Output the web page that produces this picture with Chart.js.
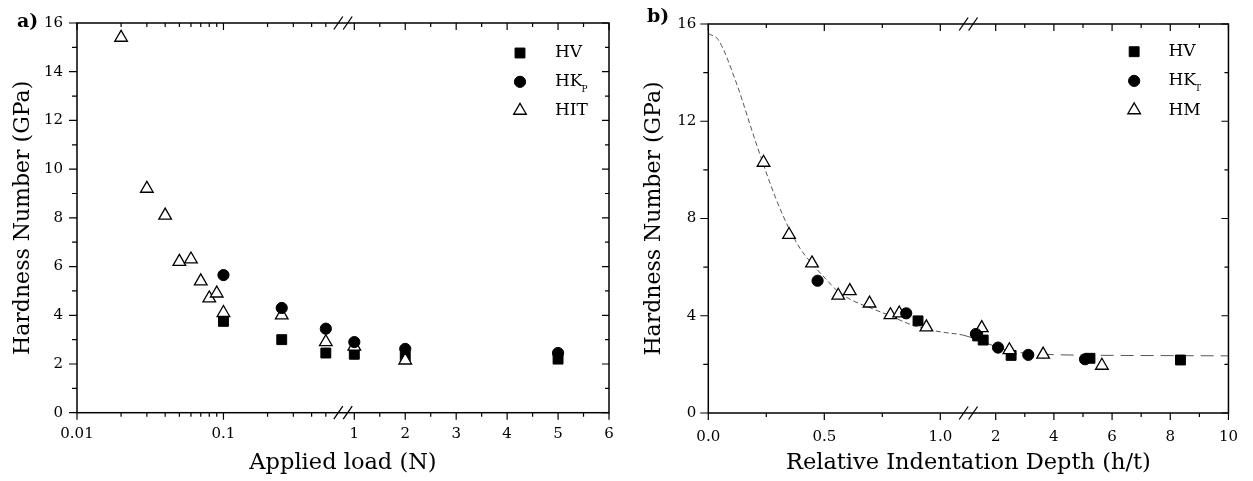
<!DOCTYPE html>
<html>
<head>
<meta charset="utf-8">
<script src="https://cdn.jsdelivr.net/npm/chart.js@4.4.1/dist/chart.umd.min.js"></script>
<style>
  html, body { margin: 0; padding: 0; background: #fff; }
  #wrap { position: relative; width: 1253px; height: 481px; background: #fff; }
  canvas { position: absolute; top: 0; }
  #chartA { left: 0; }
  #chartB { left: 626px; }
</style>
</head>
<body>
<div id="wrap">
  <canvas id="chartA" width="626" height="481"></canvas>
  <canvas id="chartB" width="627" height="481"></canvas>
</div>
<script>
// ---- panel a) hardness vs applied load ----
const aHvLoad = [0.1, 0.25, 0.5, 1, 2, 5];
const aHvValue = [3.75, 3.0, 2.45, 2.4, 2.3, 2.2];
const aHkLoad = [0.1, 0.25, 0.5, 1, 2, 5];
const aHkValue = [5.65, 4.3, 3.45, 2.9, 2.62, 2.45];
const aHitLoad = [0.02, 0.03, 0.04, 0.05, 0.06, 0.07, 0.08, 0.09, 0.1, 0.25, 0.5, 1, 2];
const aHitValue = [15.4, 9.2, 8.1, 6.2, 6.3, 5.4, 4.7, 4.9, 4.1, 4.0, 2.9, 2.72, 2.15];

const aTickValues = [0.01, 0.1, 1, 2, 3, 4, 5, 6];
const aTickLabels = ['0.01', '0.1', '1', '2', '3', '4', '5', '6'];
const aMinorTicks = [0.02, 0.03, 0.04, 0.05, 0.06, 0.07, 0.08, 0.09, 0.2, 0.3, 0.4, 0.5, 1.5, 2.5, 3.5, 4.5, 5.5];
const aYMajor = [0, 2, 4, 6, 8, 10, 12, 14, 16];
const aYMinor = [1, 3, 5, 7, 9, 11, 13, 15];

// ---- panel b) hardness vs relative indentation depth ----
const bHvDepth = [0.904, 1.38, 1.57, 2.53, 5.24, 8.35];
const bHvValue = [3.79, 3.17, 3.0, 2.37, 2.25, 2.18];
const bHkDepth = [0.471, 0.853, 1.32, 2.08, 3.12, 5.07];
const bHkValue = [5.44, 4.1, 3.25, 2.69, 2.39, 2.21];
const bHmDepth = [0.238, 0.348, 0.447, 0.56, 0.61, 0.695, 0.785, 0.823, 0.94, 1.52, 2.47, 3.63, 5.65];
const bHmValue = [10.3, 7.33, 6.16, 4.83, 5.02, 4.51, 4.03, 4.1, 3.53, 3.5, 2.59, 2.41, 1.95];
// dashed guide curve
const bCurveDepth = [0, 0.043, 0.12, 0.206, 0.29, 0.35, 0.397, 0.447, 0.504, 0.56, 0.617, 0.702, 0.787, 0.858, 0.943, 1.028, 1.1, 1.69, 2.36, 3.03, 4, 6, 8, 10];
const bCurveValue = [15.6, 15.35, 13.6, 11.1, 8.85, 7.55, 6.75, 6.14, 5.54, 4.99, 4.65, 4.31, 3.99, 3.69, 3.44, 3.3, 3.2, 2.87, 2.59, 2.46, 2.4, 2.37, 2.36, 2.35];

const bTickValues = [0, 0.5, 1, 2, 4, 6, 8, 10];
const bTickLabels = ['0.0', '0.5', '1.0', '2', '4', '6', '8', '10'];
const bMinorTicks = [0.25, 0.75, 3, 5, 7, 9];
const bYMajor = [0, 4, 8, 12, 16];
const bYMinor = [2, 6, 10, 14];

const serif = '"DejaVu Serif", "Liberation Serif", serif';

// x axis made of two pieces joined at a break (left piece may be logarithmic)
class SplitAxis extends Chart.LinearScale {
    static id = 'split';
    static defaults = {};

    toDecimal(v) {
        const o = this.options;
        if (v <= o.leftMax) {
            const t = o.leftLog
                ? Math.log(v / o.leftMin) / Math.log(o.leftMax / o.leftMin)
                : (v - o.leftMin) / (o.leftMax - o.leftMin);
            return t * o.split;
        }
        return o.split + (v - o.rightMin) / (o.rightMax - o.rightMin) * (1 - o.split);
    }

    getPixelForValue(v) {
        return this.getPixelForDecimal(this.toDecimal(v));
    }

    getValueForPixel(px) {
        const o = this.options;
        const d = this.getDecimalForPixel(px);
        if (d <= o.split) {
            const t = d / o.split;
            return o.leftLog ? o.leftMin * Math.pow(o.leftMax / o.leftMin, t) : o.leftMin + t * (o.leftMax - o.leftMin);
        }
        return o.rightMin + (d - o.split) / (1 - o.split) * (o.rightMax - o.rightMin);
    }
}
Chart.register(SplitAxis);

// frame, mirrored ticks and the // break marks
const axisFrame = {
    id: 'axisFrame',
    afterDraw(chart, args, opts) {
        const { ctx, chartArea: { left, right, top, bottom }, scales: { x, y } } = chart;
        ctx.save();
        ctx.strokeStyle = '#000';
        ctx.lineWidth = 1.2;
        ctx.beginPath();
        const seg = (x0, y0, x1, y1) => { ctx.moveTo(x0, y0); ctx.lineTo(x1, y1); };
        opts.yMajor.forEach(v => { const p = y.getPixelForValue(v); seg(left - 8, p, left, p); seg(right - 7, p, right, p); });
        opts.yMinor.forEach(v => { const p = y.getPixelForValue(v); seg(left - 5, p, left, p); seg(right - 4, p, right, p); });
        opts.xMajor.forEach(v => { const p = x.getPixelForValue(v); seg(p, bottom, p, bottom + 7); seg(p, top, p, top + 7); });
        opts.xMinor.forEach(v => { const p = x.getPixelForValue(v); seg(p, bottom, p, bottom + 4); seg(p, top, p, top + 4); });
        ctx.stroke();

        ctx.lineWidth = 1.5;
        ctx.strokeRect(left, top, right - left, bottom - top);

        const bx = left + x.options.split * (right - left);
        ctx.lineWidth = 1.3;
        ctx.beginPath();
        [top, bottom].forEach(yy => {
            seg(bx - 9.2, yy + 6.5, bx - 0.2, yy - 6.5);
            seg(bx + 0.2, yy + 6.5, bx + 9.2, yy - 6.5);
        });
        ctx.stroke();

        ctx.fillStyle = '#000';
        ctx.font = 'bold 19px ' + serif;
        ctx.textBaseline = 'middle';
        ctx.fillText(opts.tag, opts.tagX, opts.tagY);
        ctx.restore();
    }
};

// legend with subscripts
const seriesKey = {
    id: 'seriesKey',
    afterDraw(chart, args, opts) {
        const { ctx, chartArea } = chart;
        const sx = chartArea.right - opts.right;
        let sy = chartArea.top + opts.top;
        ctx.save();
        chart.data.datasets.forEach(ds => {
            if (ds.keyName === undefined) return;
            ctx.fillStyle = ds.backgroundColor;
            ctx.strokeStyle = ds.borderColor;
            ctx.lineWidth = ds.borderWidth;
            Chart.helpers.drawPoint(ctx, { pointStyle: ds.pointStyle, radius: ds.pointRadius, borderWidth: ds.borderWidth, rotation: 0 }, sx, sy);
            ctx.fillStyle = '#000';
            ctx.textBaseline = 'middle';
            ctx.font = '17px ' + serif;
            ctx.fillText(ds.keyName, sx + opts.textDx, sy);
            if (ds.keySub) {
                const w = ctx.measureText(ds.keyName).width;
                ctx.font = '9px ' + serif;
                ctx.fillText(ds.keySub, sx + opts.textDx + w - 1, sy + 8);
            }
            sy += opts.gap;
        });
        ctx.restore();
    }
};

const markers = (name, sub, xs, ys, style, order) => {
    const filled = style !== 'triangle';
    const r = style === 'rect' ? 7 : style === 'circle' ? 5.6 : 7.3;
    return {
        label: name + sub,
        keyName: name,
        keySub: sub,
        data: xs.map((v, i) => ({ x: v, y: ys[i] })),
        pointStyle: style,
        pointRadius: r,
        pointHoverRadius: r,
        backgroundColor: filled ? '#000' : '#fff',
        borderColor: '#000',
        borderWidth: filled ? 1 : 1.3,
        order
    };
};

const panelOptions = (p) => ({
    responsive: false,
    animation: false,
    devicePixelRatio: 1,
    layout: { padding: p.padding },
    plugins: {
        legend: { display: false },
        tooltip: { enabled: false },
        axisFrame: { xMajor: p.ticks, xMinor: p.minor, yMajor: p.yMajor, yMinor: p.yMinor, tag: p.tag, tagX: p.tagX, tagY: p.tagY },
        seriesKey: p.key
    },
    scales: {
        x: {
            type: 'split',
            min: p.piece.leftMin,
            max: p.piece.rightMax,
            ...p.piece,
            afterBuildTicks: s => { s.ticks = p.ticks.map(value => ({ value })); },
            afterFit: s => { s.height = p.xHeight; },
            grid: { display: false, drawTicks: false },
            border: { display: false },
            ticks: {
                autoSkip: false,
                maxRotation: 0,
                padding: p.xPad,
                color: '#000',
                font: { family: serif, size: 15 },
                callback: (v, i) => p.labels[i]
            },
            title: {
                display: true,
                text: p.xTitle,
                color: '#000',
                font: { family: serif, size: 22.5 },
                padding: { top: 0, bottom: 4.6 }
            }
        },
        y: {
            min: 0,
            max: 16,
            afterFit: s => { s.width = 77; },
            grid: { display: false, drawTicks: false },
            border: { display: false },
            ticks: {
                stepSize: p.yStep,
                padding: p.yPad,
                color: '#000',
                font: { family: serif, size: 15 }
            },
            title: {
                display: true,
                text: 'Hardness Number (GPa)',
                color: '#000',
                font: { family: serif, size: 22 },
                padding: { top: 10.2, bottom: 0 }
            }
        }
    }
});

new Chart(document.getElementById('chartA'), {
    type: 'scatter',
    data: {
        datasets: [
            markers('HV', '', aHvLoad, aHvValue, 'rect', 3),
            markers('HK', 'P', aHkLoad, aHkValue, 'circle', 1),
            markers('HIT', '', aHitLoad, aHitValue, 'triangle', 2)
        ]
    },
    options: panelOptions({
        padding: { left: 0, top: 20.7, right: 17, bottom: 0 },
        piece: { split: 0.5, leftLog: true, leftMin: 0.01, leftMax: 0.655, rightMin: 0.778, rightMax: 6 },
        ticks: aTickValues, labels: aTickLabels, minor: aMinorTicks,
        yMajor: aYMajor, yMinor: aYMinor, yStep: 2,
        xHeight: 68.3, xPad: 12, yPad: 14,
        xTitle: 'Applied load (N)',
        tag: 'a)', tagX: 17, tagY: 22,
        key: { right: 89, top: 30, gap: 28.8, textDx: 35 }
    }),
    plugins: [axisFrame, seriesKey]
});

new Chart(document.getElementById('chartB'), {
    type: 'scatter',
    data: {
        datasets: [
            markers('HV', '', bHvDepth, bHvValue, 'rect', 3),
            markers('HK', 'T', bHkDepth, bHkValue, 'circle', 1),
            markers('HM', '', bHmDepth, bHmValue, 'triangle', 2),
            {
                label: 'fit',
                data: bCurveDepth.map((v, i) => ({ x: v, y: bCurveValue[i] })),
                showLine: true,
                pointRadius: 0,
                borderColor: '#555',
                borderWidth: 1,
                cubicInterpolationMode: 'monotone',
                segment: { borderDash: c => c.p0.parsed.x >= 1.1 ? [13, 7] : [5, 3] },
                order: 4
            }
        ]
    },
    options: panelOptions({
        padding: { left: 5.3, top: 24, right: 18, bottom: 0 },
        piece: { split: 0.5, leftLog: false, leftMin: 0, leftMax: 1.121, rightMin: 1.061, rightMax: 10 },
        ticks: bTickValues, labels: bTickLabels, minor: bMinorTicks,
        yMajor: bYMajor, yMinor: bYMinor, yStep: 4,
        xHeight: 68, xPad: 15, yPad: 12,
        xTitle: 'Relative Indentation Depth (h/t)',
        tag: 'b)', tagX: 21, tagY: 17,
        key: { right: 94.3, top: 27.7, gap: 29.2, textDx: 34.3 }
    }),
    plugins: [axisFrame, seriesKey]
});
</script>
</body>
</html>
